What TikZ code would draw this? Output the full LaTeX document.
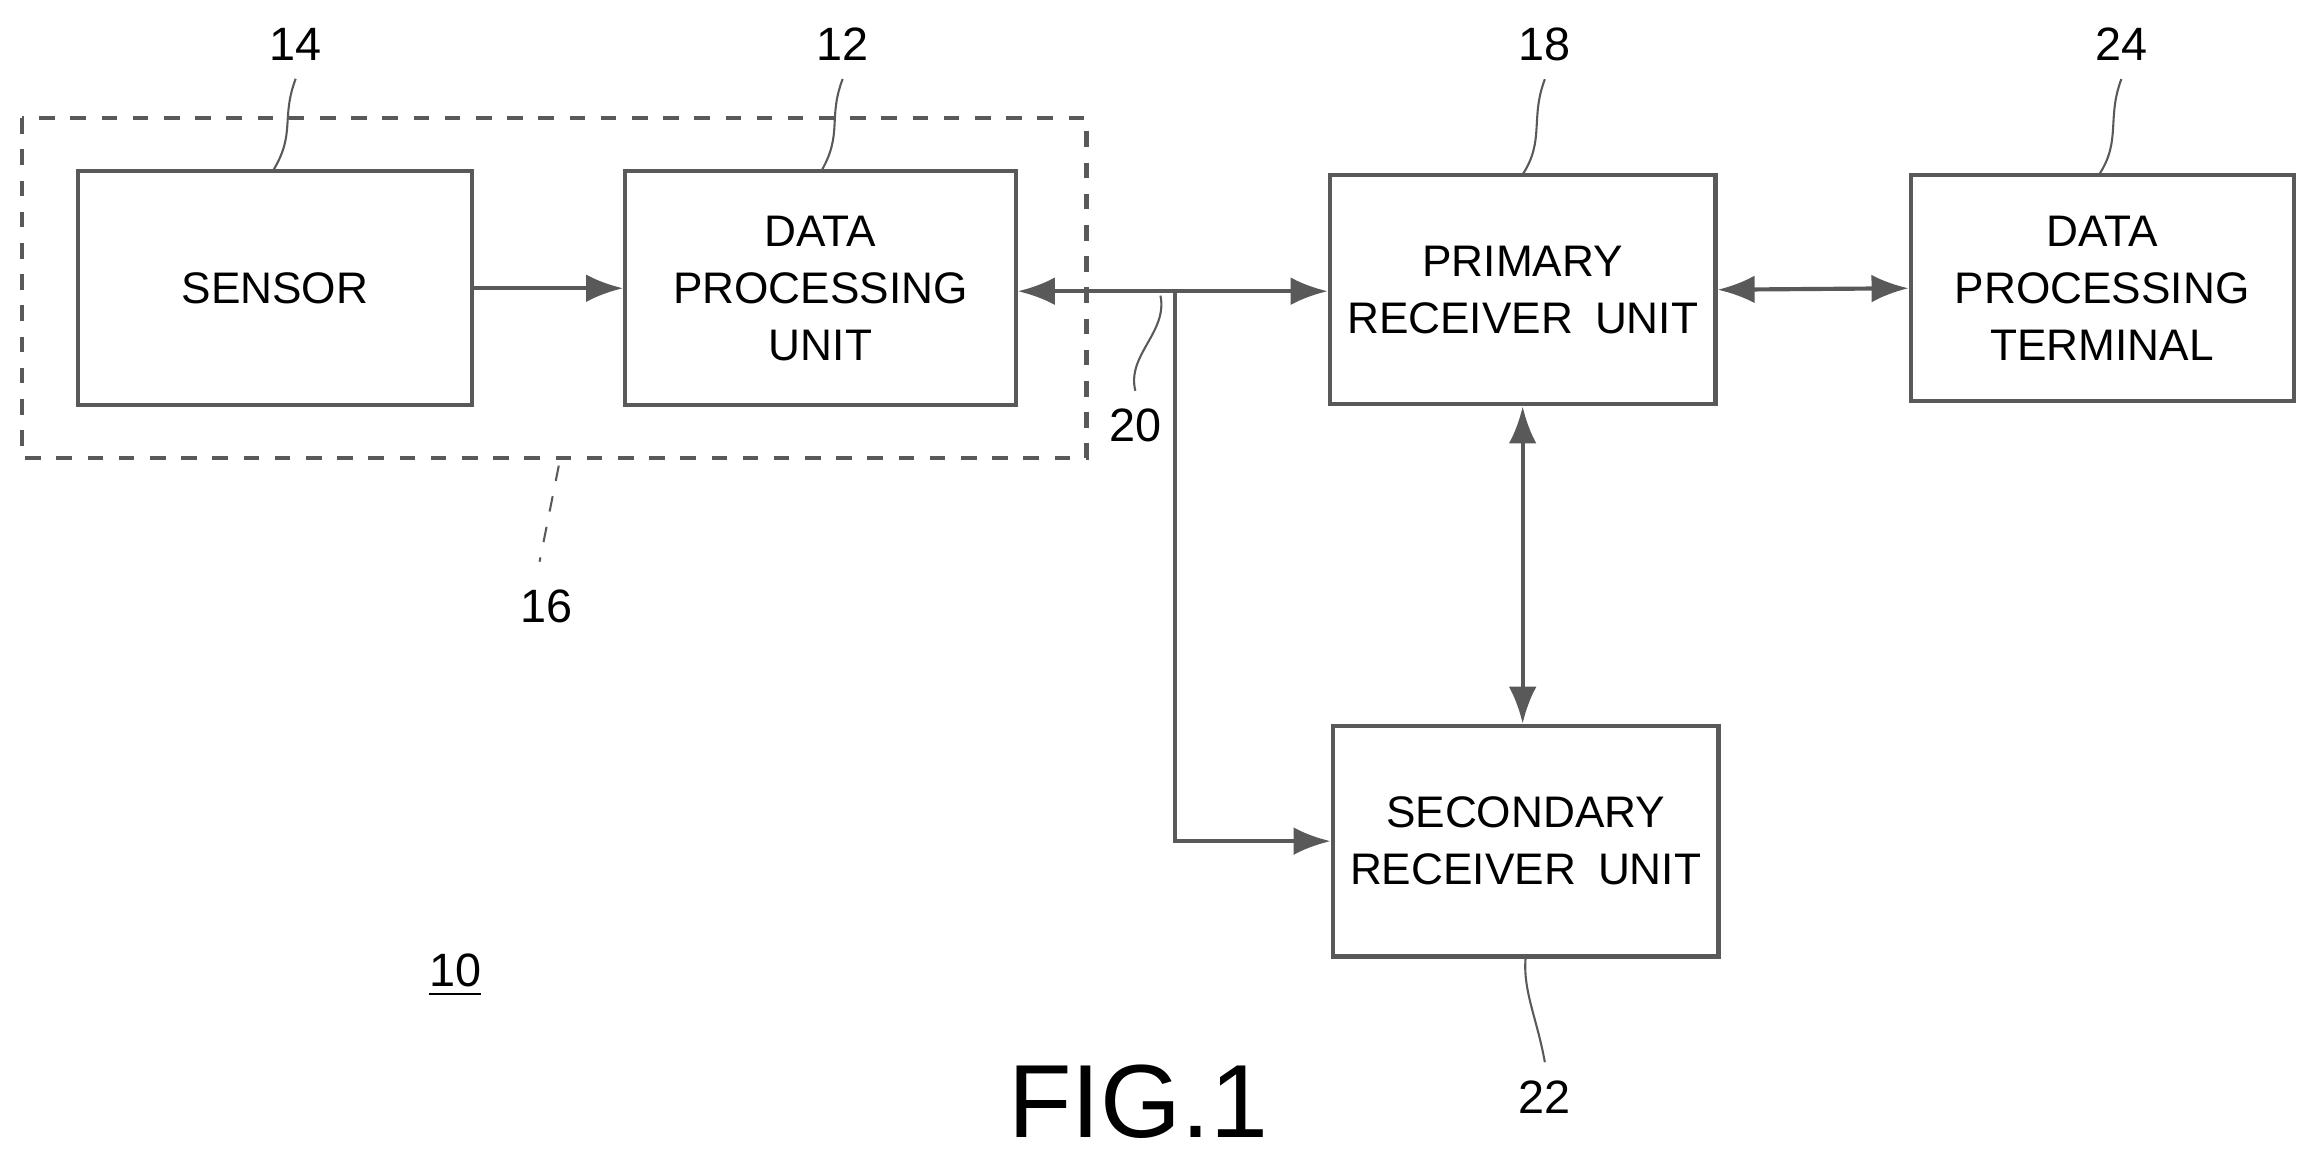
\documentclass[tikz,border=0pt]{standalone}
\usepackage{fontspec}
\setmainfont{Liberation Sans}
\usetikzlibrary{arrows.meta}
\begin{document}
\begin{tikzpicture}[x = .01cm, y = -.01cm,
  blk/.style = {draw, thick, gray!70!black, align = center, text = black,
                font = \fontsize{8.5}{11}\selectfont},
  arr/.style = {thick, gray!70!black, -{Latex[length=2.5mm]}},
  darr/.style = {thick, gray!70!black, {Latex[length=2.5mm]}-{Latex[length=2.5mm]}},
  lead/.style = {gray!70!black},
  num/.style = {font = \fontsize{9}{11}\selectfont}]
\useasboundingbox (0, 0) rectangle (1568, 783);
\draw [dashed, thick, gray!70!black] (15, 80) rectangle (735, 310);
\node[blk, minimum width = 2.66cm, minimum height = 1.58cm] (sensor) at (186, 195) {SENSOR};
\node[blk, minimum width = 2.64cm, minimum height = 1.58cm] (dpu) at (555, 195) {DATA\\PROCESSING\\UNIT};
\node[blk, minimum width = 2.58cm, minimum height = 1.55cm] (prim) at (1030, 196) {PRIMARY\\RECEIVER\enspace UNIT};
\node[blk, minimum width = 2.59cm, minimum height = 1.53cm] (term) at (1422, 195) {DATA\\PROCESSING\\TERMINAL};
\node[blk, minimum width = 2.59cm, minimum height = 1.56cm] (sec) at (1032, 569) {SECONDARY\\RECEIVER\enspace UNIT};
\coordinate (br) at (795, 197);
\coordinate (bd) at (795, 569);
\draw[arr] (sensor.east) -- (dpu.west);
\draw[darr] (dpu.east |- br) -- (prim.west |- br);
\draw[arr] (br) -- (bd) -- (sec.west);
\draw[darr] (prim.east) -- (term.west);
\draw[darr] (prim.south -| 1030, 0) -- (sec.north -| 1030, 0);
% reference numerals
\node[num] (n14) at (200, 30) {14};
\node[num] (n12) at (570, 30) {12};
\node[num] (n18) at (1045, 30) {18};
\node[num] (n24) at (1435, 30) {24};
\node[num] (n22) at (1045, 742) {22};
\node[num] (n20) at (768, 288) {20};
\node[num] (n16) at (370, 410) {16};
\node[num] (n10) at (308, 660) {\underline{10}};
\node[font = \fontsize{20}{24}\selectfont] (fig) at (770, 745) {FIG.1};
\draw[lead] (n14.south) .. controls (190, 80) and (200, 90) .. (185, 115);
\draw[lead] (n12.south) .. controls (560, 80) and (570, 90) .. (556, 115);
\draw[lead] (n18.south) .. controls (1035, 80) and (1045, 95) .. (1030, 118);
\draw[lead] (n24.south) .. controls (1425, 80) and (1435, 95) .. (1420, 118);
\draw[lead] (n22.north) .. controls (1040, 690) and (1030, 670) .. (1032, 648);
\draw[lead] (n20.north) .. controls (762, 240) and (790, 225) .. (785, 200);
\draw[lead, dashed] (378, 315) -- (365, 380);
\end{tikzpicture}
\end{document}
